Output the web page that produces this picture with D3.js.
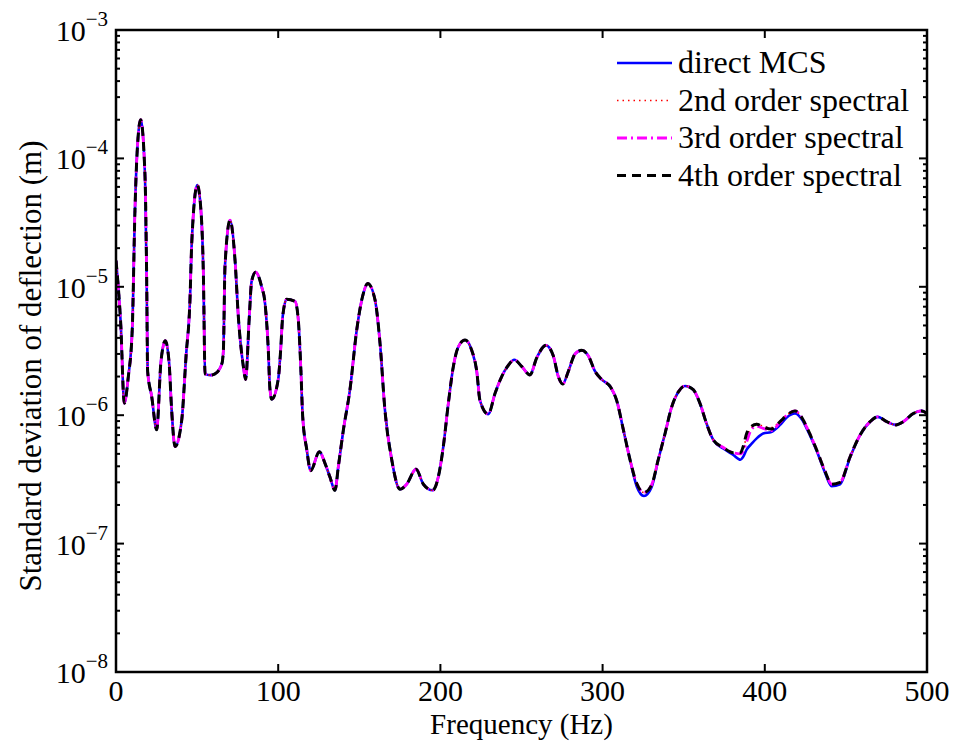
<!DOCTYPE html>
<html>
<head>
<meta charset="utf-8">
<script src="https://cdn.jsdelivr.net/npm/d3@7"></script>
<style>
  body { margin: 0; background: #fff; }
  svg text { font-family: "Liberation Serif", "Times New Roman", serif; fill: #000; }
</style>
</head>
<body>
<div id="chart"></div>
<script>
// frequency grid (Hz) shared by all series
const freq = [0, 1.4, 2.9, 5.1, 7.6, 10, 11.7, 12.8, 15.2, 17.9, 18.9, 19.5, 22, 25.1, 27.7, 30.4, 32.7, 34.3, 36.4, 40.5,
  43.2, 45.6, 46.7, 50.1, 52.2, 53.9, 54.9, 58, 61, 65.2, 66.2, 67.2, 70.3, 73.4, 75.4, 78.5, 79.9, 82.2, 83.6, 86.1,
  89.8, 91.9, 93.9, 94.9, 96, 100, 101.5, 102.8, 105.2, 110.4, 112.4, 113.9, 115.1, 117.6, 120, 125.4, 128.9, 131.9, 135, 137.1,
  140.2, 144.3, 148.4, 152.5, 155.2, 159.7, 162.8, 165.8, 170, 175.1, 179.2, 185, 189.5, 195.2, 198.7, 201.8, 204.9, 208, 211, 215.2,
  219.3, 222.4, 224.4, 229.5, 233.7, 237.8, 241.9, 245.6, 250.1, 255.2, 259.4, 265.1, 269.6, 272.7, 275.4, 278.9, 283, 287.1, 291.2, 295.3,
  299.4, 305, 308.7, 312.8, 316.9, 321, 325.5, 330.2, 334.3, 338.5, 342.6, 346.7, 350.8, 355.9, 360, 364.1, 368.3, 374.4, 380.6, 385,
  386.5, 388.8, 391.9, 395, 399, 404, 409.4, 413.5, 418.6, 423, 425.8, 431.9, 437, 441.2, 446.4, 452.6, 458.7, 464.9, 469.6, 475.2,
  480.9, 485.4, 491.5, 496.7, 500];

const mcs = [1.6e-5, 1.0e-5, 5.2e-6, 1.24e-6, 2.0e-6, 4.6e-6, 4.0e-5, 9.8e-5, 2.0e-4, 7.2e-5, 1.2e-5, 2.2e-6, 1.4e-6, 7.7e-7, 2.6e-6, 3.8e-6, 2.6e-6, 1.1e-6, 5.7e-7, 9.1e-7,
  2.9e-6, 7.9e-6, 2.2e-5, 6.2e-5, 4.2e-5, 1.2e-5, 2.1e-6, 2.05e-6, 2.1e-6, 2.5e-6, 3.2e-6, 1.45e-5, 3.3e-5, 1.6e-5, 5.9e-6, 2.4e-6, 1.9e-6, 5.9e-6, 1.1e-5, 1.3e-5,
  1.0e-5, 7.4e-6, 3.2e-6, 1.6e-6, 1.33e-6, 1.9e-6, 3.2e-6, 5.9e-6, 8.0e-6, 7.7e-6, 5.5e-6, 2.4e-6, 9.8e-7, 5.4e-7, 3.7e-7, 5.2e-7, 4.2e-7, 3.3e-7, 2.6e-7, 4.0e-7,
  7.7e-7, 1.6e-6, 4.6e-6, 8.9e-6, 1.06e-5, 7.9e-6, 3.6e-6, 1.1e-6, 4.5e-7, 2.65e-7, 2.9e-7, 3.8e-7, 2.9e-7, 2.6e-7, 3.3e-7, 5.7e-7, 1.24e-6, 2.4e-6, 3.4e-6, 3.85e-6,
  3.2e-6, 2.2e-6, 1.3e-6, 1.02e-6, 1.48e-6, 2.0e-6, 2.45e-6, 2.7e-6, 2.4e-6, 2.06e-6, 2.8e-6, 3.5e-6, 2.9e-6, 2.0e-6, 1.75e-6, 2.2e-6, 3.0e-6, 3.2e-6, 2.9e-6, 2.2e-6,
  1.9e-6, 1.65e-6, 1.3e-6, 7.7e-7, 4.5e-7, 2.8e-7, 2.35e-7, 2.75e-7, 4.5e-7, 7.2e-7, 1.16e-6, 1.52e-6, 1.69e-6, 1.58e-6, 1.24e-6, 8.6e-7, 6.4e-7, 5.5e-7, 4.9e-7, 4.5e-7,
  4.7e-7, 5.4e-7, 6.0e-7, 6.6e-7, 7.2e-7, 7.4e-7, 8.4e-7, 9.6e-7, 1.03e-6, 9.2e-7, 7.9e-7, 5.3e-7, 3.6e-7, 2.8e-7, 2.9e-7, 4.7e-7, 7.0e-7, 8.9e-7, 9.7e-7, 8.9e-7,
  8.4e-7, 8.9e-7, 1.03e-6, 1.08e-6, 1.03e-6];

const order2 = [1.6e-5, 1.0e-5, 5.2e-6, 1.24e-6, 2.0e-6, 4.6e-6, 4.0e-5, 9.8e-5, 2.0e-4, 7.2e-5, 1.2e-5, 2.2e-6, 1.4e-6, 7.7e-7, 2.6e-6, 3.8e-6, 2.6e-6, 1.1e-6, 5.7e-7, 9.1e-7,
  2.9e-6, 7.9e-6, 2.2e-5, 6.2e-5, 4.2e-5, 1.2e-5, 2.1e-6, 2.05e-6, 2.1e-6, 2.5e-6, 3.2e-6, 1.45e-5, 3.3e-5, 1.6e-5, 5.9e-6, 2.4e-6, 1.9e-6, 5.9e-6, 1.1e-5, 1.3e-5,
  1.0e-5, 7.4e-6, 3.2e-6, 1.6e-6, 1.33e-6, 1.9e-6, 3.2e-6, 5.9e-6, 8.0e-6, 7.7e-6, 5.5e-6, 2.4e-6, 9.8e-7, 5.4e-7, 3.7e-7, 5.2e-7, 4.2e-7, 3.3e-7, 2.6e-7, 4.0e-7,
  7.7e-7, 1.6e-6, 4.6e-6, 8.9e-6, 1.06e-5, 7.9e-6, 3.6e-6, 1.1e-6, 4.5e-7, 2.65e-7, 2.9e-7, 3.8e-7, 2.9e-7, 2.6e-7, 3.3e-7, 5.7e-7, 1.24e-6, 2.4e-6, 3.4e-6, 3.85e-6,
  3.2e-6, 2.2e-6, 1.3e-6, 1.02e-6, 1.48e-6, 2.0e-6, 2.45e-6, 2.7e-6, 2.4e-6, 2.06e-6, 2.8e-6, 3.5e-6, 2.9e-6, 2.0e-6, 1.75e-6, 2.2e-6, 3.0e-6, 3.2e-6, 2.9e-6, 2.2e-6,
  1.9e-6, 1.65e-6, 1.3e-6, 7.7e-7, 4.5e-7, 2.95e-7, 2.5e-7, 2.86e-7, 4.5e-7, 7.2e-7, 1.16e-6, 1.52e-6, 1.69e-6, 1.58e-6, 1.24e-6, 8.6e-7, 6.4e-7, 5.6e-7, 5.1e-7, 5.1e-7,
  5.4e-7, 6.8e-7, 8.0e-7, 8.6e-7, 8.2e-7, 8.0e-7, 9.0e-7, 1.0e-6, 1.08e-6, 9.5e-7, 8.1e-7, 5.4e-7, 3.7e-7, 2.9e-7, 3.0e-7, 4.75e-7, 7.0e-7, 8.9e-7, 9.7e-7, 8.9e-7,
  8.4e-7, 8.9e-7, 1.03e-6, 1.08e-6, 1.03e-6];

const order3 = [1.6e-5, 1.0e-5, 5.2e-6, 1.24e-6, 2.0e-6, 4.6e-6, 4.0e-5, 9.8e-5, 2.0e-4, 7.2e-5, 1.2e-5, 2.2e-6, 1.4e-6, 7.7e-7, 2.6e-6, 3.8e-6, 2.6e-6, 1.1e-6, 5.7e-7, 9.1e-7,
  2.9e-6, 7.9e-6, 2.2e-5, 6.2e-5, 4.2e-5, 1.2e-5, 2.1e-6, 2.05e-6, 2.1e-6, 2.5e-6, 3.2e-6, 1.45e-5, 3.3e-5, 1.6e-5, 5.9e-6, 2.4e-6, 1.9e-6, 5.9e-6, 1.1e-5, 1.3e-5,
  1.0e-5, 7.4e-6, 3.2e-6, 1.6e-6, 1.33e-6, 1.9e-6, 3.2e-6, 5.9e-6, 8.0e-6, 7.7e-6, 5.5e-6, 2.4e-6, 9.8e-7, 5.4e-7, 3.7e-7, 5.2e-7, 4.2e-7, 3.3e-7, 2.6e-7, 4.0e-7,
  7.7e-7, 1.6e-6, 4.6e-6, 8.9e-6, 1.06e-5, 7.9e-6, 3.6e-6, 1.1e-6, 4.5e-7, 2.65e-7, 2.9e-7, 3.8e-7, 2.9e-7, 2.6e-7, 3.3e-7, 5.7e-7, 1.24e-6, 2.4e-6, 3.4e-6, 3.85e-6,
  3.2e-6, 2.2e-6, 1.3e-6, 1.02e-6, 1.48e-6, 2.0e-6, 2.45e-6, 2.7e-6, 2.4e-6, 2.06e-6, 2.8e-6, 3.5e-6, 2.9e-6, 2.0e-6, 1.75e-6, 2.2e-6, 3.0e-6, 3.2e-6, 2.9e-6, 2.2e-6,
  1.9e-6, 1.65e-6, 1.3e-6, 7.7e-7, 4.5e-7, 2.95e-7, 2.5e-7, 2.86e-7, 4.5e-7, 7.2e-7, 1.16e-6, 1.52e-6, 1.69e-6, 1.58e-6, 1.24e-6, 8.6e-7, 6.4e-7, 5.6e-7, 5.1e-7, 5.0e-7,
  5.2e-7, 6.2e-7, 7.8e-7, 8.2e-7, 7.9e-7, 7.6e-7, 8.8e-7, 1.0e-6, 1.08e-6, 9.5e-7, 8.1e-7, 5.4e-7, 3.7e-7, 2.9e-7, 3.0e-7, 4.75e-7, 7.0e-7, 8.9e-7, 9.7e-7, 8.9e-7,
  8.4e-7, 8.9e-7, 1.03e-6, 1.08e-6, 1.03e-6];

const order4 = [1.6e-5, 1.0e-5, 5.2e-6, 1.24e-6, 2.0e-6, 4.6e-6, 4.0e-5, 9.8e-5, 2.0e-4, 7.2e-5, 1.2e-5, 2.2e-6, 1.4e-6, 7.7e-7, 2.6e-6, 3.8e-6, 2.6e-6, 1.1e-6, 5.7e-7, 9.1e-7,
  2.9e-6, 7.9e-6, 2.2e-5, 6.2e-5, 4.2e-5, 1.2e-5, 2.1e-6, 2.05e-6, 2.1e-6, 2.5e-6, 3.2e-6, 1.45e-5, 3.3e-5, 1.6e-5, 5.9e-6, 2.4e-6, 1.9e-6, 5.9e-6, 1.1e-5, 1.3e-5,
  1.0e-5, 7.4e-6, 3.2e-6, 1.6e-6, 1.33e-6, 1.9e-6, 3.2e-6, 5.9e-6, 8.0e-6, 7.7e-6, 5.5e-6, 2.4e-6, 9.8e-7, 5.4e-7, 3.7e-7, 5.2e-7, 4.2e-7, 3.3e-7, 2.6e-7, 4.0e-7,
  7.7e-7, 1.6e-6, 4.6e-6, 8.9e-6, 1.06e-5, 7.9e-6, 3.6e-6, 1.1e-6, 4.5e-7, 2.65e-7, 2.9e-7, 3.8e-7, 2.9e-7, 2.6e-7, 3.3e-7, 5.7e-7, 1.24e-6, 2.4e-6, 3.4e-6, 3.85e-6,
  3.2e-6, 2.2e-6, 1.3e-6, 1.02e-6, 1.48e-6, 2.0e-6, 2.45e-6, 2.7e-6, 2.4e-6, 2.06e-6, 2.8e-6, 3.5e-6, 2.9e-6, 2.0e-6, 1.75e-6, 2.2e-6, 3.0e-6, 3.2e-6, 2.9e-6, 2.2e-6,
  1.9e-6, 1.65e-6, 1.3e-6, 7.7e-7, 4.5e-7, 2.95e-7, 2.5e-7, 2.86e-7, 4.5e-7, 7.2e-7, 1.16e-6, 1.52e-6, 1.69e-6, 1.58e-6, 1.24e-6, 8.6e-7, 6.4e-7, 5.6e-7, 5.1e-7, 5.1e-7,
  5.6e-7, 7.2e-7, 8.2e-7, 8.5e-7, 8.1e-7, 7.8e-7, 8.9e-7, 1.0e-6, 1.08e-6, 9.5e-7, 8.1e-7, 5.4e-7, 3.7e-7, 2.9e-7, 3.0e-7, 4.75e-7, 7.0e-7, 8.9e-7, 9.7e-7, 8.9e-7,
  8.4e-7, 8.9e-7, 1.03e-6, 1.08e-6, 1.03e-6];

const seriesNames = ["direct MCS", "2nd order spectral", "3rd order spectral", "4th order spectral"];
const xTicks = [0, 100, 200, 300, 400, 500];
const yExponents = [-8, -7, -6, -5, -4, -3];

const W = 963, H = 742;
const plot = { left: 116, right: 927, top: 30, bottom: 672 };

const svg = d3.select("#chart").append("svg")
    .attr("width", W)
    .attr("height", H);

const x = d3.scaleLinear().domain([0, 500]).range([plot.left, plot.right]);
const y = d3.scaleLog().domain([1e-8, 1e-3]).range([plot.bottom, plot.top]);

svg.append("clipPath").attr("id", "clip")
   .append("rect")
   .attr("x", plot.left).attr("y", plot.top)
   .attr("width", plot.right - plot.left).attr("height", plot.bottom - plot.top);

const styles = [
    { color: "#0000ff", width: 2.6, dash: null },
    { color: "#ff0000", width: 1.6, dash: "1.5,4" },
    { color: "#ff00ff", width: 2.8, dash: "10,4,2,4" },
    { color: "#000000", width: 3, dash: "9,6" }
];
const allSeries = [mcs, order2, order3, order4];

const line = d3.line()
    .x(d => x(d[0]))
    .y(d => y(d[1]))
    .curve(d3.curveMonotoneX);

const lines = svg.append("g").attr("clip-path", "url(#clip)");
allSeries.forEach((vals, i) => {
    lines.append("path")
         .datum(freq.map((f, j) => [f, vals[j]]))
         .attr("fill", "none")
         .attr("stroke", styles[i].color)
         .attr("stroke-width", styles[i].width)
         .attr("stroke-dasharray", styles[i].dash)
         .attr("stroke-linejoin", "round")
         .attr("d", line);
});

// ticks (inside, both sides)
const ticks = svg.append("g").attr("stroke", "#000").attr("stroke-width", 2);
xTicks.slice(1, -1).forEach(t => {
    ticks.append("line").attr("x1", x(t)).attr("x2", x(t)).attr("y1", plot.bottom).attr("y2", plot.bottom - 8);
    ticks.append("line").attr("x1", x(t)).attr("x2", x(t)).attr("y1", plot.top).attr("y2", plot.top + 8);
});
const minor = [];
yExponents.slice(0, -1).forEach(e => {
    for (let k = 2; k <= 9; k++) minor.push(k * Math.pow(10, e));
});
yExponents.forEach(e => {
    const v = Math.pow(10, e);
    ticks.append("line").attr("x1", plot.left).attr("x2", plot.left + 8).attr("y1", y(v)).attr("y2", y(v));
    ticks.append("line").attr("x1", plot.right).attr("x2", plot.right - 8).attr("y1", y(v)).attr("y2", y(v));
});
minor.forEach(v => {
    ticks.append("line").attr("x1", plot.left).attr("x2", plot.left + 4).attr("y1", y(v)).attr("y2", y(v));
    ticks.append("line").attr("x1", plot.right).attr("x2", plot.right - 4).attr("y1", y(v)).attr("y2", y(v));
});

// frame
svg.append("rect")
   .attr("x", plot.left).attr("y", plot.top)
   .attr("width", plot.right - plot.left).attr("height", plot.bottom - plot.top)
   .attr("fill", "none").attr("stroke", "#000").attr("stroke-width", 2.5);

// tick labels
svg.append("g").selectAll("text").data(xTicks).join("text")
   .attr("x", d => x(d)).attr("y", 701)
   .attr("text-anchor", "middle")
   .style("font-size", "30px")
   .text(d => d);

const yl = svg.append("g").selectAll("text").data(yExponents).join("text")
   .attr("x", 108).attr("y", d => y(Math.pow(10, d)) + 11)
   .attr("text-anchor", "end")
   .style("font-size", "30px");
yl.append("tspan").text("10");
yl.append("tspan").attr("dy", -15).style("font-size", "21px").text(d => "\u2212" + Math.abs(d));

// axis titles
svg.append("text")
   .attr("x", (plot.left + plot.right) / 2).attr("y", 734)
   .attr("text-anchor", "middle")
   .style("font-size", "29px")
   .text("Frequency (Hz)");

svg.append("text")
   .attr("transform", "translate(41,366) rotate(-90)")
   .attr("text-anchor", "middle")
   .style("font-size", "31px")
   .text("Standard deviation of deflection (m)");

// legend
const legend = svg.append("g");
seriesNames.forEach((name, i) => {
    const ly = 63 + i * 37.5;
    legend.append("line")
          .attr("x1", 617).attr("x2", 672).attr("y1", ly).attr("y2", ly)
          .attr("stroke", styles[i].color)
          .attr("stroke-width", styles[i].width)
          .attr("stroke-dasharray", styles[i].dash);
    legend.append("text")
          .attr("x", 678).attr("y", ly + 10)
          .style("font-size", "32px")
          .text(name);
});
</script>
</body>
</html>
